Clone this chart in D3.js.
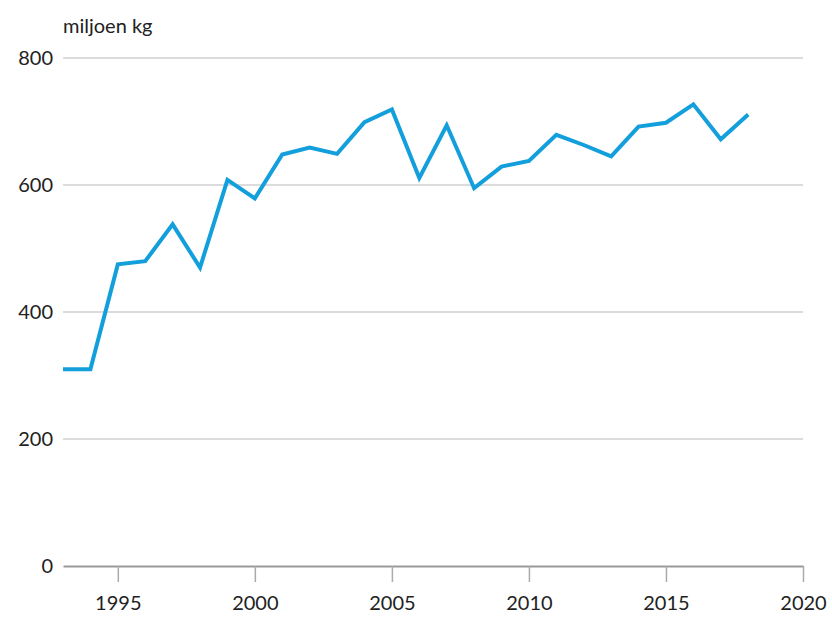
<!DOCTYPE html>
<html>
<head>
<meta charset="utf-8">
<script src="https://cdn.jsdelivr.net/npm/d3@7"></script>
<style>
  body { margin: 0; background: #fff; }
  svg text { font-family: Lato, "Open Sans", sans-serif; fill: #222; }
</style>
</head>
<body>
<div id="chart"></div>
<script>
const width = 832;
const height = 619;
const margin = { top: 58, right: 29, bottom: 53, left: 63 };

// data
const years = [1993, 1994, 1995, 1996, 1997, 1998, 1999, 2000, 2001, 2002, 2003, 2004, 2005,
  2006, 2007, 2008, 2009, 2010, 2011, 2012, 2013, 2014, 2015, 2016, 2017, 2018];
const values = [310, 310, 475, 480, 538, 470, 608, 579, 648, 659, 649, 699, 719,
  611, 694, 595, 629, 638, 679, 663, 645, 692, 698, 727, 672, 711];
const yTicks = [0, 200, 400, 600, 800];
const xTicks = [1995, 2000, 2005, 2010, 2015, 2020];
const unitLabel = "miljoen kg";

const data = years.map((y, i) => ({ year: y, value: values[i] }));

const x = d3.scaleLinear()
    .domain([1993, 2020])
    .range([margin.left, width - margin.right]);

const y = d3.scaleLinear()
    .domain([0, 800])
    .range([height - margin.bottom, margin.top]);

const svg = d3.select("#chart")
    .append("svg")
    .attr("width", width)
    .attr("height", height);

// gridlines
svg.append("g")
    .selectAll("line")
    .data(yTicks.filter(d => d > 0))
    .join("line")
    .attr("x1", margin.left)
    .attr("x2", width - margin.right)
    .attr("y1", d => y(d))
    .attr("y2", d => y(d))
    .attr("stroke", "#dcdcdc")
    .attr("stroke-width", 2);

// y labels
svg.append("g")
    .selectAll("text")
    .data(yTicks)
    .join("text")
    .attr("x", margin.left - 10)
    .attr("y", d => y(d))
    .attr("dy", "0.35em")
    .attr("text-anchor", "end")
    .attr("font-size", 20)
    .text(d => d);

// unit label
svg.append("text")
    .attr("x", margin.left)
    .attr("y", 33)
    .attr("font-size", 20)
    .text(unitLabel);

// x axis
const xAxis = d3.axisBottom(x)
    .tickValues(xTicks)
    .tickFormat(d3.format("d"))
    .tickSize(16)
    .tickSizeOuter(0)
    .tickPadding(14);

const gx = svg.append("g")
    .attr("transform", `translate(0,${y(0)})`)
    .call(xAxis);
gx.select(".domain").attr("stroke", "#999").attr("stroke-width", 2);
gx.selectAll(".tick line").attr("stroke", "#aaa").attr("stroke-width", 1.5);
gx.selectAll(".tick text")
    .attr("font-size", 20)
    .style("font-family", "Lato, 'Open Sans', sans-serif")
    .attr("fill", "#222");

// line
const line = d3.line()
    .x(d => x(d.year))
    .y(d => y(d.value));

svg.append("path")
    .datum(data)
    .attr("d", line)
    .attr("fill", "none")
    .attr("stroke", "#139fdc")
    .attr("stroke-width", 4)
    .attr("stroke-linejoin", "miter");
</script>
</body>
</html>
